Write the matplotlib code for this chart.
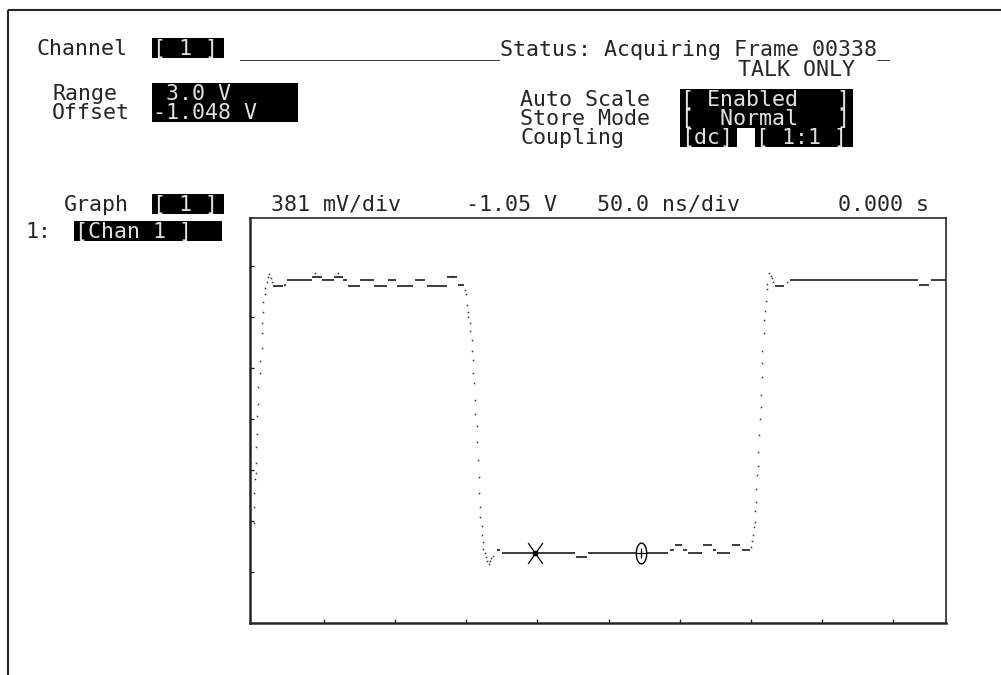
import matplotlib
matplotlib.use('Agg')
import matplotlib.pyplot as plt
from matplotlib.patches import Rectangle
from matplotlib.path import Path

# scale settings shown on the analyser screen
volts_per_div = 0.381
center_volts = -1.05
ns_per_div = 50.0

# single sampled dots on the transitions (ns, V)
dot_t = [0.9, 0.9, 0.9, 1.6, 2.3, 2.3, 2.3, 3.0, 3.0, 3.7, 3.7, 5.1, 5.1, 6.5, 6.5, 6.5,
         7.2, 7.2, 8.6, 8.6, 10.0, 10.7, 11.4, 12.9, 13.6,
         43.7, 59.9, 139.9,
         149.1, 149.8, 150.5, 151.2, 151.2, 152.6, 152.6, 154.0, 154.0, 154.7, 154.7, 155.4,
         156.1, 156.1, 157.5, 157.5, 158.2, 158.9, 158.9, 159.6, 159.6, 161.0, 161.0, 161.7,
         161.7, 163.1, 163.8, 164.5, 165.9, 166.6, 167.3, 168.7,
         350.2, 350.9, 351.6, 352.3, 353.0, 353.0, 353.7, 353.7, 354.4, 355.1, 355.1, 355.8,
         356.5, 357.2, 357.2, 357.9, 357.9, 357.9, 359.3, 359.3, 360.0, 360.7, 361.4, 361.4,
         362.8, 364.2, 364.9, 365.6, 375.3]
dot_v = [-1.83, -1.71, -1.60, -1.50, -1.45, -1.38, -1.26, -1.16, -1.03, -0.94, -0.81, -0.71,
         -0.62, -0.52, -0.41, -0.33, -0.25, -0.18, -0.12, -0.07, -0.03, 0.01, 0.03, 0.00, -0.03,
         0.04, 0.04, 0.02,
         -0.09, -0.12, -0.20, -0.25, -0.29, -0.33, -0.39, -0.46, -0.54, -0.61, -0.71, -0.78,
         -0.91, -1.01, -1.10, -1.22, -1.36, -1.48, -1.60, -1.71, -1.78, -1.85, -1.92, -1.97,
         -2.02, -2.05, -2.08, -2.11, -2.13, -2.11, -2.09, -2.07,
         -2.01, -1.96, -1.92, -1.86, -1.82, -1.74, -1.67, -1.57, -1.47, -1.40, -1.30, -1.17,
         -1.05, -0.96, -0.87, -0.74, -0.63, -0.54, -0.41, -0.31, -0.24, -0.17, -0.08, -0.04,
         0.04, 0.02, 0.00, -0.03, -0.03]

# flat runs of the trace: start (ns), end (ns), level (V)
run_t0 = [14.3, 22.0, 24.1, 41.6, 48.7, 57.1, 63.4, 66.9, 75.3, 85.2, 95.0, 101.3, 114.0,
          122.4, 136.4, 144.1,
          171.9, 175.0, 227.0, 235.5, 293.1, 296.7, 302.3, 305.8, 316.3, 323.3, 326.1,
          336.6, 343.6,
          367.0, 377.4, 468.0, 476.3]
run_t1 = [21.3, 23.4, 41.6, 48.7, 57.1, 63.4, 66.2, 75.3, 85.2, 94.3, 100.6, 112.6, 121.0,
          136.4, 143.4, 148.4,
          174.0, 226.3, 234.7, 291.7, 296.0, 301.6, 305.1, 315.6, 322.6, 325.4, 335.2,
          342.2, 349.2,
          373.4, 467.3, 475.0, 486.9]
run_v = [-0.06, -0.05, -0.01, 0.01, -0.01, 0.01, -0.01, -0.06, -0.01, -0.06, -0.01, -0.06,
         -0.01, -0.06, 0.01, -0.05,
         -2.03, -2.05, -2.08, -2.05, -2.03, -1.99, -2.03, -2.05, -1.99, -2.03, -2.05,
         -1.99, -2.03,
         -0.06, -0.01, -0.05, -0.01]

# cursor markers X and O
cursor_x_t = 198.0
cursor_o_t = 273.0
cursor_v = -2.05

W, H = 1001, 675
fig = plt.figure(figsize=(W / 100, H / 100), dpi=100)
fig.patch.set_facecolor('white')

# full-screen axes in pixel units for the text page
scr = fig.add_axes([0, 0, 1, 1])
scr.set_xlim(0, W)
scr.set_ylim(H, 0)
scr.set_autoscale_on(False)
scr.axis('off')

ink = '#262626'
font = dict(family='DejaVu Sans Mono', fontsize=15.6)

# screen frame: top and left edges only
scr.hlines(10, 8, W, color=ink, lw=1.5)
scr.vlines(8, 10, H, color=ink, lw=1.5)


def label(x, yc, s):
    scr.text(x, yc + 7, s, color=ink, va='baseline', ha='left', **font)


def field(x0, x1, yc, s):
    scr.add_patch(Rectangle((x0, yc - 10), x1 - x0, 20, color='black', lw=0))
    scr.text(x0 + 1, yc + 7, s, color='#e0e0e0', va='baseline', ha='left', **font)


label(37, 48, 'Channel')
field(152, 224, 48, '[ 1 ]')
label(240, 48, '_' * 20 + 'Status: Acquiring Frame 00338_')
label(738, 69, 'TALK ONLY')

label(52, 93, 'Range')
field(152, 298, 93, ' 3.0 V')
label(52, 112, 'Offset')
field(152, 298, 112, '-1.048 V')

label(520, 99, 'Auto Scale')
field(680, 853, 99, '[ Enabled   ]')
label(520, 118, 'Store Mode')
field(680, 853, 118, '[  Normal   ]')
label(520, 137, 'Coupling')
field(680, 737, 137, '[dc]')
field(755, 853, 137, '[ 1:1 ]')

label(64, 204, 'Graph')
field(152, 224, 204, '[ 1 ]')
label(271, 204, '381 mV/div')
label(466, 204, '-1.05 V')
label(597, 204, '50.0 ns/div')
label(838, 204, '0.000 s')

label(25, 231, '1:')
field(74, 222, 231, '[Chan 1 ]')

# waveform graticule area
ax = fig.add_axes([250 / W, (H - 623) / H, 696 / W, 405 / H])
ax.set_xlim(-1.9, 486.9)
ax.set_ylim(center_volts - 4 * volts_per_div, center_volts + 3.94 * volts_per_div)
for sp in ax.spines.values():
    sp.set_linewidth(1.2)
    sp.set_color(ink)
ax.spines['left'].set_linewidth(1.8)
ax.spines['bottom'].set_linewidth(1.8)
ax.set_xticks([ns_per_div * k for k in range(1, 10)])
ax.set_yticks([center_volts + k * volts_per_div for k in range(-3, 4)])
ax.tick_params(direction='in', length=3, width=1, color=ink,
               labelbottom=False, labelleft=False)

ax.hlines(run_v, run_t0, run_t1, color='#1a1a1a', lw=1.2)
ax.plot(dot_t, dot_v, ls='none', marker='s', ms=1.1, mew=0, color='#333333')

x_path = Path([(-0.7, -1), (0.7, 1), (-0.7, 1), (0.7, -1)],
              [Path.MOVETO, Path.LINETO, Path.MOVETO, Path.LINETO])
ax.plot([cursor_x_t], [cursor_v], marker=x_path, ms=15, mew=0.9, color='black')
ax.plot([cursor_x_t], [cursor_v], marker='s', ms=3, color='black')

circ = Path.unit_circle()
o_path = Path(circ.vertices * [0.5, 1.0], circ.codes)
ax.plot([cursor_o_t], [cursor_v], marker=o_path, ms=15, mew=1.0,
        mfc='white', mec='black')
ax.plot([cursor_o_t], [cursor_v], marker='+', ms=7, mew=0.9, color='black')

fig.savefig('out.png', dpi=100)
